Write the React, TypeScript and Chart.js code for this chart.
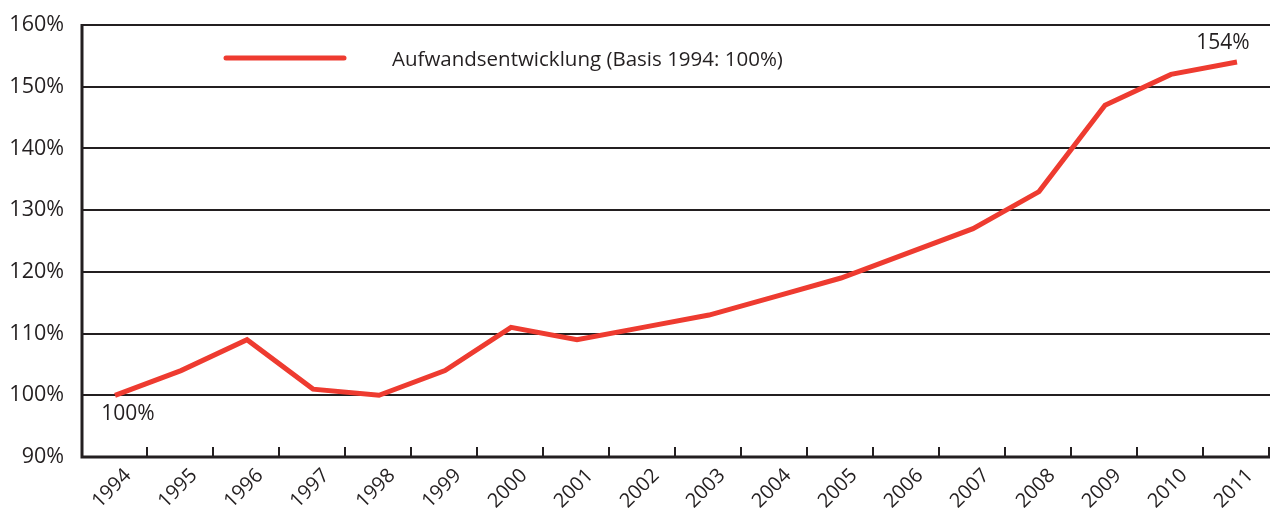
import React, { useEffect, useRef } from "react";
import { Chart, registerables } from "chart.js";

Chart.register(...registerables);

const years = ["1994","1995","1996","1997","1998","1999","2000","2001","2002","2003","2004","2005","2006","2007","2008","2009","2010","2011"];
const aufwand = [100, 104, 109, 101, 100, 104, 111, 109, 111, 113, 116, 119, 123, 127, 133, 147, 152, 154];
const seriesLabel = "Aufwandsentwicklung (Basis 1994: 100%)";
const yTicks = [90, 100, 110, 120, 130, 140, 150, 160];
const firstNote = "100%";
const lastNote = "154%";

const FONT = "'Open Sans', 'Noto Sans', sans-serif";
const RED = "#ee3b30";
const INK = "#231f20";

const extrasPlugin = {
  id: "extras",
  afterDraw(chart: any) {
    const { ctx, chartArea, scales } = chart;
    const x = scales.x;
    const y = scales.y;
    ctx.save();
    // inner ticks on x axis at category boundaries
    const n = years.length;
    ctx.strokeStyle = INK;
    ctx.lineWidth = 2;
    for (let i = 1; i <= n; i++) {
      const px = Math.round(chartArea.left + (i * (chartArea.right - chartArea.left)) / n);
      ctx.beginPath();
      ctx.moveTo(px - 1, chartArea.bottom);
      ctx.lineTo(px - 1, chartArea.bottom - 10);
      ctx.stroke();
    }
    // axis lines
    ctx.lineWidth = 3;
    ctx.beginPath();
    ctx.moveTo(chartArea.left, chartArea.top - 1);
    ctx.lineTo(chartArea.left, chartArea.bottom);
    ctx.lineTo(chartArea.right, chartArea.bottom);
    ctx.stroke();

    // legend
    ctx.strokeStyle = RED;
    ctx.lineWidth = 5;
    ctx.lineCap = "round";
    ctx.beginPath();
    ctx.moveTo(226, 58);
    ctx.lineTo(344, 58);
    ctx.stroke();
    ctx.fillStyle = INK;
    ctx.font = `20.5px ${FONT}`;
    ctx.textBaseline = "middle";
    ctx.textAlign = "left";
    ctx.fillText(seriesLabel, 392, 60);

    // value notes
    ctx.font = `21px ${FONT}`;
    ctx.textAlign = "center";
    ctx.fillText(firstNote, x.getPixelForValue(0) + 13, y.getPixelForValue(aufwand[0]) + 19);
    ctx.fillText(lastNote, x.getPixelForValue(n - 1) - 14, y.getPixelForValue(aufwand[n - 1]) - 19);
    ctx.restore();
  },
};

export default function App() {
  const ref = useRef<HTMLCanvasElement | null>(null);
  useEffect(() => {
    if (!ref.current) return;
    const chart = new Chart(ref.current, {
      type: "line",
      data: {
        labels: years,
        datasets: [
          {
            label: seriesLabel,
            data: aufwand,
            borderColor: RED,
            borderWidth: 5,
            pointRadius: 0,
            tension: 0,
            fill: false,
          },
        ],
      },
      options: {
        animation: false,
        responsive: false,
        maintainAspectRatio: false,
        layout: { padding: { top: 25, right: 1, left: 0, bottom: 0 } },
        plugins: { legend: { display: false }, tooltip: { enabled: false } },
        scales: {
          x: {
            offset: true,
            grid: { display: false, drawTicks: false },
            border: { display: false },
            ticks: {
              autoSkip: false,
              maxRotation: 45,
              minRotation: 45,
              labelOffset: 13,
              padding: 7,
              color: INK,
              font: { family: FONT, size: 20 },
            },
            afterFit(scale: any) {
              scale.height = 51;
              scale.paddingLeft = 0;
              scale.paddingRight = 0;
            },
          },
          y: {
            min: 90,
            max: 160,
            afterBuildTicks(scale: any) {
              scale.ticks = yTicks.map((v) => ({ value: v }));
            },
            grid: {
              color: INK,
              lineWidth: 2,
              drawTicks: false,
            },
            border: { display: false },
            ticks: {
              padding: 18,
              color: INK,
              font: { family: FONT, size: 21.5 },
              callback: (v: any) => `${v}%`,
            },
            afterFit(scale: any) {
              scale.width = 82;
              scale.paddingTop = 0;
              scale.paddingBottom = 0;
            },
          },
        },
      },
      plugins: [extrasPlugin],
    });
    return () => chart.destroy();
  }, []);
  return (
    <div style={{ position: "fixed", left: 0, top: 0, width: 1271, height: 508, background: "#fff" }}>
      <canvas ref={ref} width={1271} height={508} style={{ display: "block" }} />
    </div>
  );
}
